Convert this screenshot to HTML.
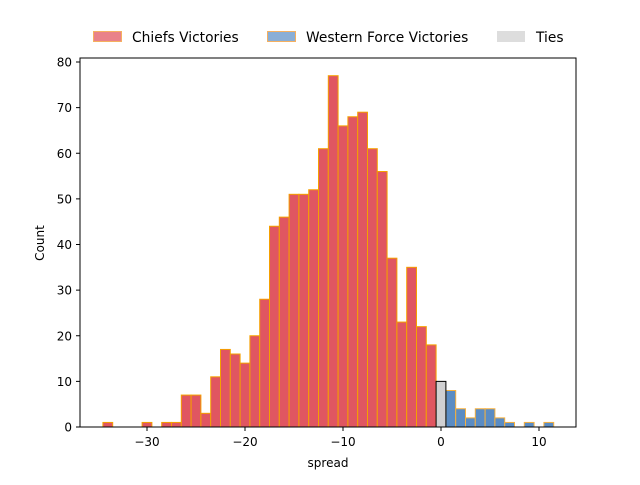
<!DOCTYPE html>
<html><head><meta charset="utf-8"><style>
body{margin:0;background:#fff}
svg text{font-family:"DejaVu Sans","Liberation Sans",sans-serif;font-size:12px;fill:#000}
svg .lg{font-size:13.8px}
</style></head><body>
<svg id="c" width="640" height="480" xmlns="http://www.w3.org/2000/svg">
<rect width="640" height="480" fill="#fff"/>
<g id="bars"></g>
<rect x="80" y="58" width="496" height="369" fill="none" stroke="#000" stroke-width="1"/>
<g id="axes"></g>
<text x="328" y="467" text-anchor="middle">spread</text>
<text transform="translate(44,243) rotate(-90)" text-anchor="middle">Count</text>
<g>
<g><rect x="93.5" y="31.5" width="28" height="10" fill="#e9828a" stroke="#f5b060"/><text class="lg" x="132" y="42">Chiefs Victories</text></g>
<g><rect x="267.5" y="31.5" width="28" height="10" fill="#8aaed6" stroke="#f5b060"/><text class="lg" x="306" y="42">Western Force Victories</text></g>
<g><rect x="497" y="31" width="28" height="11" fill="#dddddd"/><text class="lg" x="536" y="42">Ties</text></g>
</g>
</svg>
<script>
const chiefsSpread=[-34,-30,-28,-27,-26,-25,-24,-23,-22,-21,-20,-19,-18,-17,-16,-15,-14,-13,-12,-11,-10,-9,-8,-7,-6,-5,-4,-3,-2,-1];
const chiefsCount=[1,1,1,1,7,7,3,11,17,16,14,20,28,44,46,51,51,52,61,77,66,68,69,61,56,37,23,35,22,18];
const forceSpread=[1,2,3,4,5,6,7,9,11];
const forceCount=[8,4,2,4,4,2,1,1,1];
const tieSpread=[0];
const tieCount=[10];
const xTicks=[-30,-20,-10,0,10];
const yTicks=[0,10,20,30,40,50,60,70,80];
const NS='http://www.w3.org/2000/svg';
const sx=v=>441+v*9.8;
const sy=v=>427-v*4.5625;
const bars=document.getElementById('bars');
const axes=document.getElementById('axes');
function draw(xs,cs,fill,stroke,name){
  xs.forEach((x,i)=>{
    const r=document.createElementNS(NS,'rect');
    r.setAttribute('x',sx(x-0.5));r.setAttribute('width',9.8);
    r.setAttribute('y',sy(cs[i]));r.setAttribute('height',sy(0)-sy(cs[i]));
    r.setAttribute('fill',fill);r.setAttribute('stroke',stroke);r.setAttribute('stroke-width',1);
    
    
    bars.appendChild(r);
  });
}
draw(chiefsSpread,chiefsCount,'#e05661','#f5a000','bar-chiefs');
draw(forceSpread,forceCount,'#5a8cc4','#f5b040','bar-western-force');
draw(tieSpread,tieCount,'#d0d0d2','#000','bar-tie');
xTicks.forEach(t=>{
  const l=document.createElementNS(NS,'line');
  l.setAttribute('x1',sx(t));l.setAttribute('x2',sx(t));l.setAttribute('y1',427);l.setAttribute('y2',431);l.setAttribute('stroke','#000');
  
  
  axes.appendChild(l);
  const tx=document.createElementNS(NS,'text');
  tx.setAttribute('x',sx(t));tx.setAttribute('y',446);tx.setAttribute('text-anchor','middle');
  tx.textContent=t<0?'\u2212'+(-t):String(t);
  
  
  axes.appendChild(tx);
});
yTicks.forEach(t=>{
  const l=document.createElementNS(NS,'line');
  l.setAttribute('x1',76);l.setAttribute('x2',80);l.setAttribute('y1',sy(t));l.setAttribute('y2',sy(t));l.setAttribute('stroke','#000');
  
  
  axes.appendChild(l);
  const tx=document.createElementNS(NS,'text');
  tx.setAttribute('x',72);tx.setAttribute('y',sy(t)+4.5);tx.setAttribute('text-anchor','end');
  tx.textContent=String(t);
  
  
  axes.appendChild(tx);
});
</script>
</body></html>
